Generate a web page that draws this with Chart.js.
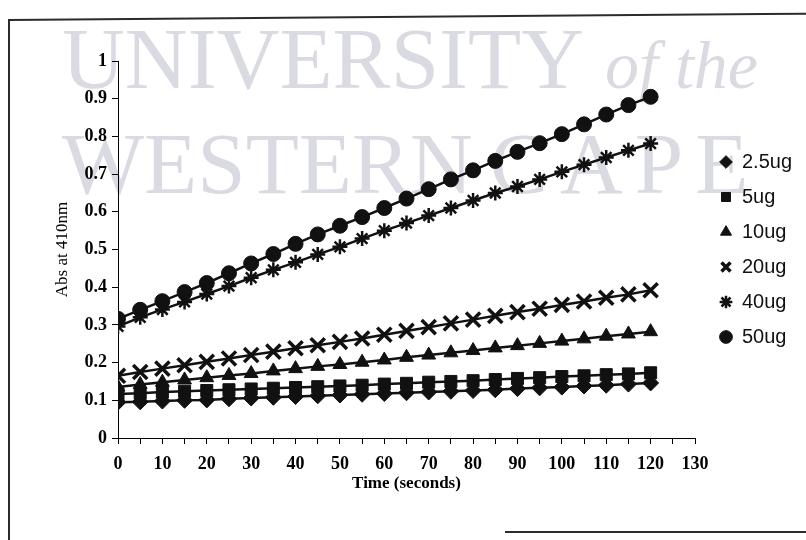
<!DOCTYPE html>
<html>
<head>
<meta charset="utf-8">
<title>Abs at 410nm vs time</title>
<script src="https://cdn.jsdelivr.net/npm/chart.js@4.4.1/dist/chart.umd.min.js"></script>
<style>
  html, body { margin: 0; padding: 0; background: #fff; }
  #wrap { position: relative; width: 806px; height: 540px; overflow: hidden; background: #fff; }
  .wm { position: absolute; font-family: "Liberation Serif", "Times New Roman", serif; color: #dadbe2; white-space: nowrap; line-height: 1; }
  .rule { position: absolute; background: #2b2b2b; }
  #chart { position: absolute; left: 0; top: 0; }
</style>
</head>
<body>
<div id="wrap">
  <!-- background watermark -->
  <div class="wm" style="left:62px; top:15px; font-size:87px;">UNIVERSITY</div>
  <div class="wm" style="left:605px; top:31px; font-size:68px; font-style:italic;">of the</div>
  <div class="wm" style="left:62px; top:120px; font-size:87px;">WESTERN</div>
  <div class="wm" style="left:490px; top:120px; font-size:87px; letter-spacing:12px;">CAPE</div>
  <!-- page frame -->
  <div class="rule" style="left:8px; top:19px; width:800px; height:1.5px; transform:rotate(-0.45deg); transform-origin:0 0;"></div>
  <div class="rule" style="left:8px; top:19px; width:1.5px; height:521px;"></div>
  <div class="rule" style="left:505px; top:531px; width:301px; height:1.5px;"></div>
  <canvas id="chart" width="806" height="540"></canvas>
</div>
<script>
// Sampling times (seconds)
const TIME = [0, 5, 10, 15, 20, 25, 30, 35, 40, 45, 50, 55, 60, 65, 70, 75, 80, 85, 90, 95, 100, 105, 110, 115, 120];

// Absorbance at 410 nm for each enzyme amount
const ABS_2_5UG = [0.095, 0.096, 0.098, 0.100, 0.101, 0.104, 0.106, 0.108, 0.110, 0.112, 0.114, 0.116, 0.118, 0.120, 0.122, 0.124, 0.126, 0.128, 0.131, 0.133, 0.135, 0.138, 0.140, 0.143, 0.146];
const ABS_5UG   = [0.117, 0.119, 0.122, 0.124, 0.126, 0.128, 0.130, 0.132, 0.134, 0.136, 0.138, 0.140, 0.143, 0.145, 0.148, 0.150, 0.152, 0.155, 0.158, 0.160, 0.163, 0.165, 0.168, 0.170, 0.173];
const ABS_10UG  = [0.135, 0.142, 0.148, 0.154, 0.160, 0.166, 0.171, 0.178, 0.184, 0.190, 0.195, 0.201, 0.207, 0.214, 0.220, 0.226, 0.232, 0.239, 0.245, 0.251, 0.257, 0.263, 0.270, 0.276, 0.282];
const ABS_20UG  = [0.165, 0.175, 0.184, 0.193, 0.202, 0.211, 0.220, 0.229, 0.238, 0.246, 0.255, 0.264, 0.274, 0.284, 0.294, 0.304, 0.314, 0.324, 0.334, 0.343, 0.353, 0.362, 0.372, 0.381, 0.392];
const ABS_40UG  = [0.296, 0.320, 0.341, 0.361, 0.382, 0.403, 0.425, 0.446, 0.466, 0.487, 0.507, 0.529, 0.550, 0.570, 0.590, 0.610, 0.630, 0.650, 0.667, 0.686, 0.706, 0.725, 0.744, 0.763, 0.781];
const ABS_50UG  = [0.316, 0.340, 0.363, 0.387, 0.411, 0.437, 0.463, 0.488, 0.515, 0.540, 0.563, 0.586, 0.610, 0.635, 0.660, 0.686, 0.710, 0.735, 0.759, 0.782, 0.806, 0.832, 0.858, 0.883, 0.905];

const SERIES_NAMES = ['2.5ug', '5ug', '10ug', '20ug', '40ug', '50ug'];
const SERIES_VALUES = [ABS_2_5UG, ABS_5UG, ABS_10UG, ABS_20UG, ABS_40UG, ABS_50UG];

const X_TITLE = 'Time (seconds)';
const Y_TITLE = 'Abs at 410nm';

// marker look per series
const MARKERS = [
  { style: 'rectRot',  radius: 8,   width: 1 },
  { style: 'rect',     radius: 8.5, width: 1 },
  { style: 'triangle', radius: 8,   width: 1 },
  { style: 'crossRot', radius: 10,  width: 3.5 },
  { style: 'star',     radius: 7.5, width: 2.5 },
  { style: 'circle',   radius: 7.5, width: 1 }
];

const INK = '#111';

const datasets = SERIES_NAMES.map((name, i) => ({
  label: name,
  data: TIME.map((t, j) => ({ x: t, y: SERIES_VALUES[i][j] })),
  borderColor: INK,
  backgroundColor: INK,
  borderWidth: 2.5,
  tension: 0,
  fill: false,
  pointStyle: MARKERS[i].style,
  pointRadius: MARKERS[i].radius,
  pointHoverRadius: MARKERS[i].radius,
  pointBorderWidth: MARKERS[i].width,
  pointBackgroundColor: INK,
  pointBorderColor: INK
}));

// Keep the legend column a fixed width and nudge its items right
const legendPlacement = {
  id: 'legendPlacement',
  beforeLayout(chart) {
    const lg = chart.legend;
    if (lg && !lg.__fixedWidth) {
      const fit = lg.fit;
      lg.fit = function () { fit.call(this); this.width = 111; };
      lg.__fixedWidth = true;
    }
  },
  afterLayout(chart) {
    const lg = chart.legend;
    if (lg) { lg.left += 10; lg.right += 10; }
  }
};

const serif = '"Liberation Serif", "Times New Roman", serif';

new Chart(document.getElementById('chart'), {
  type: 'line',
  data: { datasets },
  plugins: [legendPlacement],
  options: {
    responsive: false,
    animation: false,
    devicePixelRatio: 1,
    layout: { padding: { top: 61, right: 0, bottom: 44, left: 0 } },
    plugins: {
      tooltip: { enabled: false },
      legend: {
        position: 'right',
        fullSize: false,
        align: 'center',
        labels: {
          usePointStyle: true,
          boxWidth: 12,
          boxHeight: 9,
          padding: 15,
          color: INK,
          font: { family: '"Liberation Sans", Arial, sans-serif', size: 20 }
        }
      }
    },
    scales: {
      x: {
        type: 'linear',
        min: 0,
        max: 130,
        afterFit(scale) { scale.height = 58; },
        border: { display: true, color: '#000', width: 1 },
        grid: { drawOnChartArea: false, drawTicks: true, tickLength: 6, color: '#000', lineWidth: 1 },
        ticks: {
          stepSize: 5,
          autoSkip: false,
          maxRotation: 0,
          padding: 10,
          color: '#000',
          font: { family: serif, size: 18, weight: 'bold' },
          callback: v => (v % 10 === 0 ? String(v) : '')
        },
        title: {
          display: true,
          text: X_TITLE,
          color: '#000',
          font: { family: serif, size: 17, weight: 'bold' },
          padding: { top: 0, bottom: 2 }
        }
      },
      y: {
        min: 0,
        max: 1,
        afterFit(scale) { scale.width = 118; },
        border: { display: true, color: '#000', width: 1 },
        grid: { drawOnChartArea: false, drawTicks: true, tickLength: 6, color: '#000', lineWidth: 1 },
        ticks: {
          stepSize: 0.1,
          padding: 5,
          color: '#000',
          font: { family: serif, size: 18, weight: 'bold' },
          callback: v => String(Math.round(v * 10) / 10)
        },
        title: {
          display: true,
          text: Y_TITLE,
          color: '#000',
          font: { family: serif, size: 17 },
          padding: { top: 52, bottom: 0 }
        }
      }
    }
  }
});
</script>
</body>
</html>
